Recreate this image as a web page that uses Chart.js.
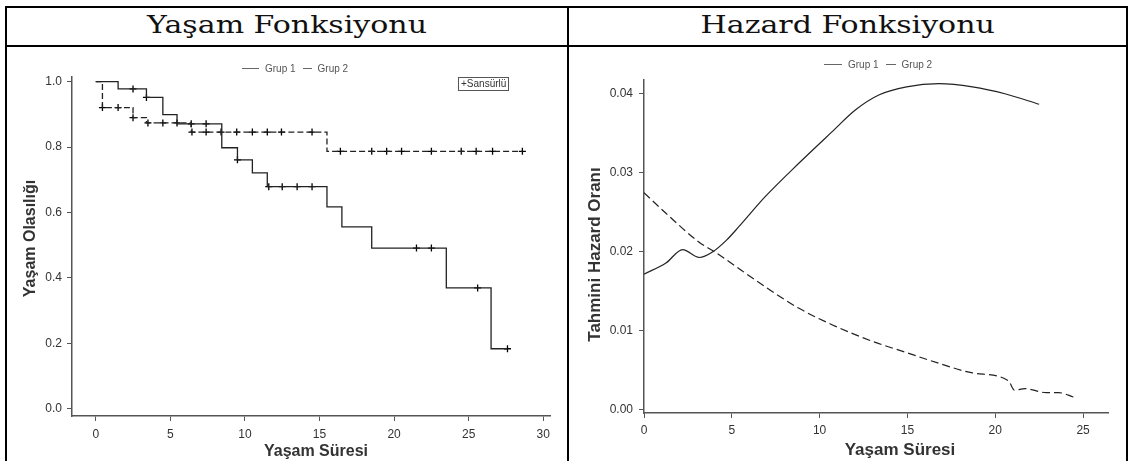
<!DOCTYPE html>
<html>
<head>
<meta charset="utf-8">
<script src="https://cdn.jsdelivr.net/npm/chart.js@4.4.1/dist/chart.umd.min.js"></script>
<style>
  body { margin: 0; background: #fff; width: 1132px; height: 461px; overflow: hidden; position: relative; font-family: "Liberation Sans", Arial, sans-serif; }
  .rule { position: absolute; background: #000; }
  .head { position: absolute; top: 7px; height: 38px; line-height: 36px; text-align: center; font-family: "DejaVu Serif", serif; font-size: 24px; color: #111; }
  .head span { display: inline-block; transform: scaleX(1.25); }
  canvas { position: absolute; top: 48px; }
  .legend { position: absolute; display: flex; align-items: center; font-size: 10px; color: #555; white-space: nowrap; }
  .legend .line { display: inline-block; height: 1px; background: #666; margin-right: 6px; }
  .legend .txt { margin-right: 7px; }
  .censorKey { position: absolute; left: 458px; top: 77px; border: 1px solid #555; font-size: 10px; line-height: 12px; padding: 0 2px; color: #333; }
</style>
</head>
<body>
<div class="rule" style="left:5px; top:6px; width:1123px; height:2px;"></div>
<div class="rule" style="left:5px; top:45px; width:1123px; height:2px;"></div>
<div class="rule" style="left:5px; top:6px; width:2px; height:455px;"></div>
<div class="rule" style="left:567px; top:6px; width:2px; height:455px;"></div>
<div class="rule" style="left:1126px; top:6px; width:2px; height:455px;"></div>
<div class="head" style="left:7px; width:560px;"><span>Yaşam Fonksiyonu</span></div>
<div class="head" style="left:569px; width:557px;"><span>Hazard Fonksiyonu</span></div>

<canvas id="Survival" width="557" height="413" style="left:8px;"></canvas>
<canvas id="Hazard" width="553" height="413" style="left:572px;"></canvas>
<div id="legendSurvival" class="legend" style="left:242px; top:63px;"></div>
<div id="legendHazard" class="legend" style="left:824px; top:59px;"></div>
<div class="censorKey">+Sansürlü</div>

<script>
// Kaplan-Meier survival (Grup 1 solid, Grup 2 dashed)
const kmTime1 = [0, 1.5, 3.4, 4.5, 5.45, 8.45, 9.5, 10.5, 11.5, 15.5, 16.5, 18.5, 23.5, 26.5, 27.6];
const kmSurv1 = [1.0, 0.978, 0.952, 0.899, 0.871, 0.798, 0.761, 0.721, 0.679, 0.617, 0.556, 0.491, 0.369, 0.183, 0.183];
const censTime1 = [2.5, 3.4, 6.4, 7.4, 9.5, 11.6, 12.5, 13.5, 14.5, 21.5, 22.5, 25.6, 27.6];
const censSurv1 = [0.978, 0.952, 0.871, 0.871, 0.761, 0.679, 0.679, 0.679, 0.679, 0.491, 0.491, 0.369, 0.183];

const kmTime2 = [0, 0.45, 2.5, 3.4, 6.4, 15.5, 28.6];
const kmSurv2 = [1.0, 0.921, 0.890, 0.874, 0.846, 0.787, 0.787];
const censTime2 = [0.45, 1.5, 2.5, 3.5, 4.5, 5.45, 6.45, 7.4, 8.4, 9.45, 10.5, 11.5, 12.45, 14.5, 16.4, 18.5, 19.5, 20.5, 22.5, 24.5, 25.5, 26.6, 28.6];
const censSurv2 = [0.921, 0.921, 0.890, 0.874, 0.874, 0.874, 0.846, 0.846, 0.846, 0.846, 0.846, 0.846, 0.846, 0.846, 0.787, 0.787, 0.787, 0.787, 0.787, 0.787, 0.787, 0.787, 0.787];

// estimated hazard
const hzTime1 = [0, 1.25, 2.2, 3.15, 3.9, 4.7, 5.4, 6.9, 8.8, 10.7, 12.05, 13.4, 14.95, 16.8, 18.7, 20.6, 22.5];
const hzRate1 = [0.0172, 0.0186, 0.0203, 0.0193, 0.0200, 0.0215, 0.0232, 0.0270, 0.0312, 0.0352, 0.0380, 0.0399, 0.0409, 0.0413, 0.0409, 0.0400, 0.0387];
const hzTime2 = [0, 1.25, 3.1, 4.1, 6.9, 8.8, 10.7, 13.0, 14.9, 16.8, 18.7, 20.75, 21.1, 21.7, 22.9, 23.6, 24.5];
const hzRate2 = [0.0275, 0.0249, 0.0213, 0.0199, 0.0156, 0.0129, 0.0108, 0.0087, 0.0073, 0.0059, 0.0047, 0.0037, 0.0025, 0.0027, 0.0022, 0.0022, 0.0016];

const groupNames = ['Grup 1', 'Grup 2'];
const survXTicks = [0, 5, 10, 15, 20, 25, 30];
const survYTicks = [0, 0.2, 0.4, 0.6, 0.8, 1.0];
const hazXTicks = [0, 5, 10, 15, 20, 25];
const hazYTicks = [0, 0.01, 0.02, 0.03, 0.04];

const ink = '#222';
const axisColor = '#555';
const labelColor = '#333';

function points(xs, ys) {
	return xs.map((x, i) => ({x: x, y: ys[i]}));
}

// legend as html, so it can sit closer to the plot than the built in one
const htmlLegend = {
	id: 'htmlLegend',
	afterUpdate(chart, args, options) {
		const box = document.getElementById(options.containerID);
		box.innerHTML = '';
		const items = chart.options.plugins.legend.labels.generateLabels(chart)
			.filter(item => !chart.data.datasets[item.datasetIndex].censored);
		items.forEach((item, i) => {
			const line = document.createElement('span');
			line.className = 'line';
			line.style.width = options.lineWidths[i] + 'px';
			const txt = document.createElement('span');
			txt.className = 'txt';
			txt.textContent = item.text;
			box.appendChild(line);
			box.appendChild(txt);
		});
	}
};

// SPSS puts the axis titles a bit off centre, the built in titles can't do that
const axisTitles = {
	id: 'axisTitles',
	afterDraw(chart, args, opts) {
		const {ctx, chartArea} = chart;
		ctx.save();
		ctx.fillStyle = labelColor;
		ctx.font = 'bold ' + opts.size + 'px "Liberation Sans"';
		ctx.textAlign = 'center';
		ctx.textBaseline = 'middle';
		ctx.fillText(opts.x, (chartArea.left + chartArea.right) / 2 + opts.xShift, opts.xTitleY);
		ctx.translate(opts.yTitleX, (chartArea.top + chartArea.bottom) / 2 + opts.yShift);
		ctx.rotate(-Math.PI / 2);
		ctx.fillText(opts.y, 0, 0);
		ctx.restore();
	}
};

function makeAxis(cfg) {
	return {
		type: 'linear',
		min: cfg.min,
		max: cfg.max,
		afterBuildTicks: scale => { scale.ticks = cfg.ticks.map(v => ({value: v})); },
		afterFit: scale => {
			if (cfg.width) scale.width = cfg.width;
			if (cfg.height) scale.height = cfg.height;
		},
		border: {color: axisColor, width: 1.5},
		grid: {drawOnChartArea: false, tickLength: 5, tickColor: axisColor, tickWidth: 1},
		ticks: {
			padding: cfg.tickPad,
			color: labelColor,
			font: {family: 'Liberation Sans', size: 12},
			callback: cfg.format
		}
	};
}

new Chart(document.getElementById('Survival').getContext('2d'), {
	type: 'line',
	data: {
		datasets: [{
			label: groupNames[0],
			data: points(kmTime1, kmSurv1),
			stepped: 'before',
			borderColor: ink,
			borderWidth: 1.3,
			pointRadius: 0
		}, {
			label: groupNames[1],
			data: points(kmTime2, kmSurv2),
			stepped: 'before',
			borderColor: ink,
			borderWidth: 1.3,
			borderDash: [6, 3],
			pointRadius: 0
		}, {
			label: groupNames[0] + ' sansürlü',
			censored: true,
			data: points(censTime1, censSurv1),
			showLine: false,
			pointStyle: 'cross',
			pointRadius: 3.5,
			borderColor: '#000',
			pointBorderWidth: 1.3
		}, {
			label: groupNames[1] + ' sansürlü',
			censored: true,
			data: points(censTime2, censSurv2),
			showLine: false,
			pointStyle: 'cross',
			pointRadius: 3.5,
			borderColor: '#000',
			pointBorderWidth: 1.3
		}]
	},
	options: {
		responsive: false,
		animation: false,
		layout: {padding: {top: 29, right: 15, left: 0, bottom: 0}},
		plugins: {
			legend: {display: false},
			tooltip: {enabled: false},
			htmlLegend: {containerID: 'legendSurvival', lineWidths: [17, 9]},
			axisTitles: {x: 'Yaşam Süresi', y: 'Yaşam Olasılığı', size: 16, xShift: 5, xTitleY: 404, yTitleX: 23, yShift: -8}
		},
		scales: {
			x: makeAxis({min: -1.59, max: 30.45, ticks: survXTicks, height: 45, tickPad: 6, format: v => v}),
			y: makeAxis({min: -0.0227, max: 1.0144, ticks: survYTicks, width: 64, tickPad: 5, format: v => v.toFixed(1)})
		}
	},
	plugins: [htmlLegend, axisTitles]
});

new Chart(document.getElementById('Hazard').getContext('2d'), {
	type: 'line',
	data: {
		datasets: [{
			label: groupNames[0],
			data: points(hzTime1, hzRate1),
			cubicInterpolationMode: 'monotone',
			borderColor: ink,
			borderWidth: 1.2,
			pointRadius: 0
		}, {
			label: groupNames[1],
			data: points(hzTime2, hzRate2),
			cubicInterpolationMode: 'monotone',
			borderColor: ink,
			borderWidth: 1.2,
			borderDash: [8, 4],
			pointRadius: 0
		}]
	},
	options: {
		responsive: false,
		animation: false,
		layout: {padding: {top: 32, right: 17, left: 0, bottom: 0}},
		plugins: {
			legend: {display: false},
			tooltip: {enabled: false},
			htmlLegend: {containerID: 'legendHazard', lineWidths: [18, 10]},
			axisTitles: {x: 'Yaşam Süresi', y: 'Tahmini Hazard Oranı', size: 17, xShift: 24, xTitleY: 402, yTitleX: 23, yShift: 8}
		},
		scales: {
			x: makeAxis({min: 0, max: 26.42, ticks: hazXTicks, height: 48, tickPad: 5, format: v => v}),
			y: makeAxis({min: -0.00038, max: 0.04177, ticks: hazYTicks, width: 72, tickPad: 6, format: v => v.toFixed(2)})
		}
	},
	plugins: [htmlLegend, axisTitles]
});
</script>
</body>
</html>
